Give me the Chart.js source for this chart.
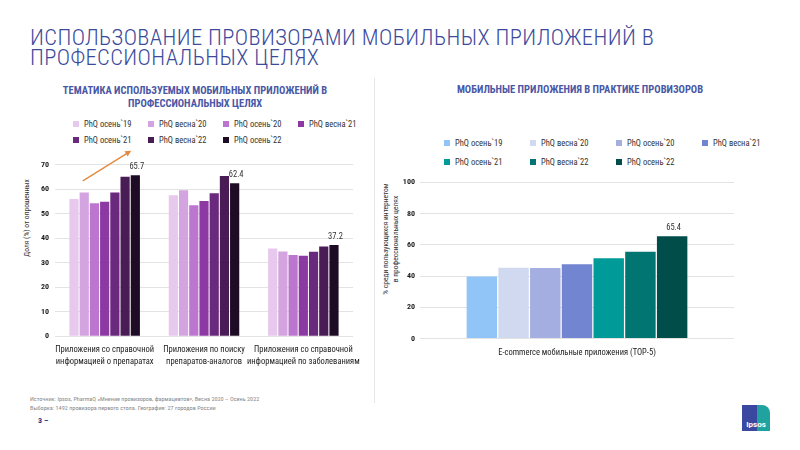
<!DOCTYPE html>
<html>
<head>
<meta charset="utf-8">
<script src="https://cdn.jsdelivr.net/npm/chart.js@4.4.0/dist/chart.umd.min.js"></script>
<style>
  body { margin: 0; width: 800px; height: 450px; background: #fff; position: relative; overflow: hidden;
         font-family: "Roboto Condensed", sans-serif; color: #333; }
  .abs { position: absolute; }
  .title { left: 30px; top: 27px; font-size: 22.5px; line-height: 20px; color: #3b4a9b; font-weight: 300; letter-spacing: 0.4px; }
  .sub { font-size: 10.5px; font-weight: bold; color: #4a57a5; text-align: center; line-height: 13px; }
  .legend { display: grid; font-size: 8.5px; color: #333; }
  .legend div { display: flex; align-items: center; white-space: nowrap; }
  .legend span { display: inline-block; width: 6px; height: 6px; margin-right: 5px; }
  .ytitle { font-size: 7.5px; color: #333; text-align: center; white-space: nowrap; transform: translate(-50%, -50%) rotate(-90deg); line-height: 9.5px; }
  .note { left: 30px; top: 395px; font-size: 6.2px; line-height: 8.5px; color: #8a8a8a; }
  .page { left: 38px; top: 416px; font-size: 8px; font-weight: bold; color: #2b3580; }
  .sep { left: 374px; top: 78px; width: 1px; height: 325px; background: #e6e6e6; }
  .logo { left: 742px; top: 405px; width: 28px; height: 26px; border-top-right-radius: 8px;
          background: linear-gradient(to right, #3b48a0 0 55%, #20a39e 55% 100%);
          color: #fff; font-family: "Roboto", sans-serif; font-weight: bold; font-size: 8px;
          display: flex; align-items: flex-end; justify-content: center; padding-bottom: 2px; box-sizing: border-box; }
</style>
</head>
<body>
<div class="abs title">ИСПОЛЬЗОВАНИЕ ПРОВИЗОРАМИ МОБИЛЬНЫХ ПРИЛОЖЕНИЙ В<br>ПРОФЕССИОНАЛЬНЫХ ЦЕЛЯХ</div>
<div class="abs sub" style="left:45px;top:84px;width:300px;">ТЕМАТИКА ИСПОЛЬЗУЕМЫХ МОБИЛЬНЫХ ПРИЛОЖЕНИЙ В<br>ПРОФЕССИОНАЛЬНЫХ ЦЕЛЯХ</div>
<div class="abs sub" style="left:430px;top:83px;width:300px;">МОБИЛЬНЫЕ ПРИЛОЖЕНИЯ В ПРАКТИКЕ ПРОВИЗОРОВ</div>
<div class="abs legend" id="legLeft" style="left:73px;top:116px;grid-template-columns:repeat(4,75px);grid-auto-rows:16px;"></div>
<div class="abs legend" id="legRight" style="left:444px;top:133px;grid-template-columns:repeat(4,86px);grid-auto-rows:19px;"></div>
<div class="abs sep"></div>
<div class="abs ytitle" style="left:27px;top:218px;">Доля (%) от опрошенных</div>
<div class="abs ytitle" style="left:390px;top:239px;">% среди пользующихся интернетом<br>в профессиональных целях</div>
<div class="abs" style="left:0;top:140px;width:372px;height:236px;"><canvas id="left"></canvas></div>
<div class="abs" style="left:375px;top:160px;width:425px;height:209px;"><canvas id="right"></canvas></div>
<div class="abs note">Источник: Ipsos, PharmaQ «Мнение провизоров, фармацевтов», Весна 2020 – Осень 2022<br>Выборка: 1492 провизора первого стола. География: 27 городов России</div>
<div class="abs page">3 –</div>
<div class="abs logo">Ipsos</div>

<script>
// ---- данные ----
const PERIODS = ["PhQ осень`19", "PhQ весна`20", "PhQ осень`20", "PhQ весна`21", "PhQ осень`21", "PhQ весна`22", "PhQ осень`22"];

const TOPICS = [
  ['Приложения со справочной', 'информацией о препаратах'],
  ['Приложения по поиску', 'препаратов-аналогов'],
  ['Приложения со справочной', 'информацией по заболеваниям'],
];
const phq_o19 = [56.0, 57.5, 35.8];
const phq_v20 = [58.7, 59.6, 34.6];
const phq_o20 = [54.3, 53.5, 33.1];
const phq_v21 = [54.9, 55.2, 32.8];
const phq_o21 = [58.7, 58.3, 34.5];
const phq_v22 = [65.1, 65.4, 36.6];
const phq_o22 = [65.7, 62.4, 37.2];
const TOPIC_SERIES = [phq_o19, phq_v20, phq_o20, phq_v21, phq_o21, phq_v22, phq_o22];
const TOPIC_COLORS = ['#e6c9ec', '#d3a4df', '#bd76d0', '#8d39a3', '#69297c', '#4a1c56', '#1d0c24'];
const TOPIC_TICKS = [0, 10, 20, 30, 40, 50, 60, 70];
const TREND = [63.4, 75.7]; // стрелка роста, в единицах оси

const ECOM_LABEL = 'E-commerce мобильные приложения (TOP-5)';
const ECOM_VALUES = [39.7, 45.3, 45.1, 47.6, 51.3, 55.6, 65.4];
const ECOM_COLORS = ['#92c5f7', '#d0d9ef', '#a4aee0', '#7185d1', '#009b99', '#007572', '#004d4a'];
const ECOM_TICKS = [0, 20, 40, 60, 80, 100];

const FONT = '"Roboto Condensed", sans-serif';
const GRID = '#e3e3e3';

// ---- легенды ----
function legend(id, colors) {
  const el = document.getElementById(id);
  PERIODS.forEach((p, i) => {
    const d = document.createElement('div');
    d.innerHTML = `<span style="background:${colors[i]}"></span>${p}`;
    el.appendChild(d);
  });
}
legend('legLeft', TOPIC_COLORS);
legend('legRight', ECOM_COLORS);

// подпись значения над последней серией
const lastValue = {
  id: 'lastValue',
  afterDatasetsDraw(chart) {
    const { ctx } = chart;
    const i = chart.data.datasets.length - 1;
    const meta = chart.getDatasetMeta(i);
    ctx.save();
    ctx.font = `8.5px ${FONT}`;
    ctx.fillStyle = '#333';
    ctx.textAlign = 'center';
    ctx.textBaseline = 'bottom';
    meta.data.forEach((bar, k) => {
      ctx.fillText(chart.data.datasets[i].data[k].toFixed(1), bar.x + 1.5, bar.y - 4);
    });
    ctx.restore();
  }
};

const trendArrow = {
  id: 'trendArrow',
  afterDatasetsDraw(chart) {
    const { ctx, scales: { x, y } } = chart;
    const cw = x.getPixelForValue(1) - x.getPixelForValue(0);
    const cx = x.getPixelForValue(0);
    const x0 = cx - 0.22 * cw, y0 = y.getPixelForValue(TREND[0]);
    const x1 = cx + 0.267 * cw, y1 = y.getPixelForValue(TREND[1]);
    const a = Math.atan2(y1 - y0, x1 - x0);
    ctx.save();
    ctx.strokeStyle = ctx.fillStyle = '#e4893d';
    ctx.lineWidth = 1.3;
    ctx.beginPath(); ctx.moveTo(x0, y0); ctx.lineTo(x1 - 4 * Math.cos(a), y1 - 4 * Math.sin(a)); ctx.stroke();
    ctx.beginPath();
    ctx.moveTo(x1, y1);
    ctx.lineTo(x1 - 6 * Math.cos(a) + 3 * Math.sin(a), y1 - 6 * Math.sin(a) - 3 * Math.cos(a));
    ctx.lineTo(x1 - 6 * Math.cos(a) - 3 * Math.sin(a), y1 - 6 * Math.sin(a) + 3 * Math.cos(a));
    ctx.closePath(); ctx.fill();
    ctx.restore();
  }
};

function yAxis(ticks, width, pad) {
  return {
    min: ticks[0], max: ticks[ticks.length - 1],
    afterBuildTicks: s => { s.ticks = ticks.map(v => ({ value: v })); },
    afterFit: s => { s.width = width; },
    border: { display: false },
    grid: { color: GRID, drawTicks: false },
    ticks: { padding: pad, color: '#222', font: { family: FONT, size: 8, weight: 'bold' } },
  };
}

new Chart(document.getElementById('left'), {
  type: 'bar',
  data: {
    labels: TOPICS,
    datasets: TOPIC_SERIES.map((d, i) => ({
      label: PERIODS[i], data: d, backgroundColor: TOPIC_COLORS[i],
      categoryPercentage: 0.72, barPercentage: 0.9,
    })),
  },
  options: {
    responsive: true, maintainAspectRatio: false, animation: false,
    layout: { padding: { left: 0, right: 19, top: 24.7, bottom: 0 } },
    plugins: { legend: { display: false }, tooltip: { enabled: false } },
    scales: {
      x: {
        border: { display: false },
        grid: { display: false, drawTicks: false },
        ticks: { padding: 8, maxRotation: 0, autoSkip: false, color: '#222', font: { family: FONT, size: 8.5, lineHeight: 1.4 } },
      },
      y: yAxis(TOPIC_TICKS, 55, 6),
    },
  },
  plugins: [lastValue, trendArrow],
});

new Chart(document.getElementById('right'), {
  type: 'bar',
  data: {
    labels: [ECOM_LABEL],
    datasets: ECOM_VALUES.map((v, i) => ({
      label: PERIODS[i], data: [v], backgroundColor: ECOM_COLORS[i],
      categoryPercentage: 0.707, barPercentage: 0.96,
    })),
  },
  options: {
    responsive: true, maintainAspectRatio: false, animation: false,
    layout: { padding: { left: 0, right: 66, top: 22.3, bottom: 2.3 } },
    plugins: { legend: { display: false }, tooltip: { enabled: false } },
    scales: {
      x: {
        border: { display: false },
        grid: { display: false, drawTicks: false },
        ticks: { padding: 9, maxRotation: 0, color: '#222', font: { family: FONT, size: 8.5 } },
      },
      y: yAxis(ECOM_TICKS, 45, 5),
    },
  },
  plugins: [lastValue],
});
</script>
</body>
</html>
